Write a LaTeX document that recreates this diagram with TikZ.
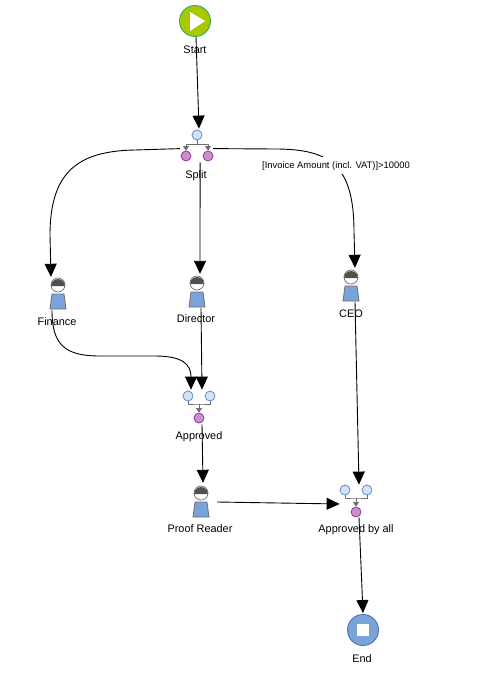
\documentclass[tikz,border=0pt]{standalone}
\usepackage{fontspec}
\setmainfont{Liberation Sans}
\usetikzlibrary{arrows.meta, calc}
\definecolor{startgreen}{RGB}{168, 200, 0}
\definecolor{startring}{RGB}{50, 170, 110}
\definecolor{endblue}{RGB}{122, 163, 216}
\definecolor{endring}{RGB}{75, 115, 190}
\definecolor{portblue}{RGB}{212, 226, 245}
\definecolor{portring}{RGB}{95, 140, 205}
\definecolor{portpurple}{RGB}{200, 145, 200}
\definecolor{purplering}{RGB}{150, 50, 170}
\definecolor{roleblue}{RGB}{122, 163, 218}
\definecolor{rolegrey}{RGB}{110, 110, 110}
\definecolor{headgrey}{RGB}{80, 80, 80}
\tikzset{
    flow/.style={black, line width=0.9pt, -{Triangle[length=13pt, width=12pt]}},
    lbl/.style={font=\fontsize{10.9}{13}\selectfont, inner sep=0pt, anchor=base},
    inport/.style={circle, draw=portring, fill=portblue, line width=0.8pt, minimum size=10pt, inner sep=0pt},
    outport/.style={circle, draw=purplering, fill=portpurple, line width=0.8pt, minimum size=10pt, inner sep=0pt},
    wire/.style={rolegrey, line width=0.8pt},
    wiretip/.style={rolegrey, line width=0.8pt, -{Triangle[length=4.5pt, width=6pt]}},
}
\begin{document}
\begin{tikzpicture}[x=1pt, y=-1pt]
    \useasboundingbox[fill=white] (0,0) rectangle (481,693);

    % start and end
    \node[circle, draw=startring, fill=startgreen, line width=0.9pt, minimum size=31pt, inner sep=0pt] (start) at (195,21) {};
    \fill[white] (190,12) -- (205,21) -- (190,31) -- cycle;
    \node[circle, draw=endring, fill=endblue, line width=0.9pt, minimum size=31pt, inner sep=0pt] (end) at (363,630) {};
    \fill[white] (357,624) rectangle (369,636);

    % roles
    \foreach \n/\x/\y in {finance/58/285, director/197/283, ceo/351/277, proof/201/493} {
        \node[minimum width=18pt, minimum height=32pt, inner sep=0pt] (\n) at (\x,\y+9) {};
        \fill[white] (\x,\y) circle (7);
        \fill[headgrey] (\x-7,\y+1) arc (180:360:7) -- cycle;
        \draw[rolegrey, line width=0.7pt] (\x,\y) circle (7);
        \draw[rolegrey, fill=roleblue, line width=0.8pt] (\x-6,\y+9) -- (\x+6,\y+9) -- (\x+8,\y+24) -- (\x-8,\y+24) -- cycle;
    }

    % split
    \node[inport] (splitin) at (197,135) {};
    \node[outport] (splitleft) at (186,156) {};
    \node[outport] (splitright) at (208,156) {};
    \draw[wire] (splitin.south) -- (197,144);
    \draw[wire] (186,144) -- (208,144);
    \draw[wiretip] (186,144) -- (splitleft.north);
    \draw[wiretip] (208,144) -- (splitright.north);

    % joins
    \foreach \n/\x/\y in {approved/199/396, approvedall/356/490} {
        \node[inport] (\n left) at (\x-11,\y) {};
        \node[inport] (\n right) at (\x+11,\y) {};
        \node[outport] (\n out) at (\x,\y+22) {};
        \draw[wire] (\n left.south) |- (\x,\y+8) -| (\n right.south);
        \draw[wiretip] (\x,\y+8) -- (\n out.north);
    }

    % connectors
    \draw[flow] ([xshift=1pt]start.south) -- ([shift={(2pt,1pt)}]splitin.north);
    \draw[flow] ([shift={(-6pt,2pt)}]splitleft.north) -- (135,150) .. controls (80,151) and (50,170) .. (50,235) -- ([shift={(-7pt,1pt)}]finance.north);
    \draw[flow] ([yshift=-1pt]$(splitleft.south)!0.64!(splitright.south)$) -- ([shift={(3pt,2pt)}]director.north);
    \draw[flow] ([shift={(5pt,2pt)}]splitright.north) -- (275,149) .. controls (330,149) and (354,165) .. (354,232) -- ([shift={(4pt,2pt)}]ceo.north);
    \draw[flow] ([xshift=-6pt]finance.south) .. controls (52,345) and (65,356) .. (100,356) -- (155,356) .. controls (182,356) and (191,364) .. ([shift={(3pt,1pt)}]approvedleft.north);
    \draw[flow] ([xshift=4pt]director.south) -- ([shift={(3pt,1pt)}]approvedleft.north -| approvedout.north);
    \draw[flow] ([shift={(3pt,-1pt)}]approvedout.south) -- ([shift={(2pt,3pt)}]proof.north);
    \draw[flow] ([xshift=7pt]proof.east) -- ([yshift=-14pt]approvedallleft.west);
    \draw[flow] ([xshift=4pt]ceo.south) -- ([shift={(3pt,0pt)}]approvedallleft.north -| approvedallout.north);
    \draw[flow] ([xshift=3pt]approvedallout.south) -- ([yshift=1pt]end.north);

    % labels
    \node[lbl] (startlabel) at (195,53.5) {Start};
    \node[lbl] (splitlabel) at (196,178) {Split};
    \node[lbl] (financelabel) at (57,325) {Finance};
    \node[lbl] (directorlabel) at (196,322) {Director};
    \node[lbl] (ceolabel) at (351,317) {CEO};
    \node[lbl] (approvedlabel) at (199,439) {Approved};
    \node[lbl] (prooflabel) at (200,532) {Proof Reader};
    \node[lbl] (approvedalllabel) at (356,532.5) {Approved by all};
    \node[lbl] (endlabel) at (362,662) {End};
    \node[lbl, font=\fontsize{9.4}{11}\selectfont, fill=white, inner xsep=1pt, inner ysep=4pt] (condition) at (336,168) {[Invoice Amount (incl. VAT)]>10000};
\end{tikzpicture}
\end{document}
